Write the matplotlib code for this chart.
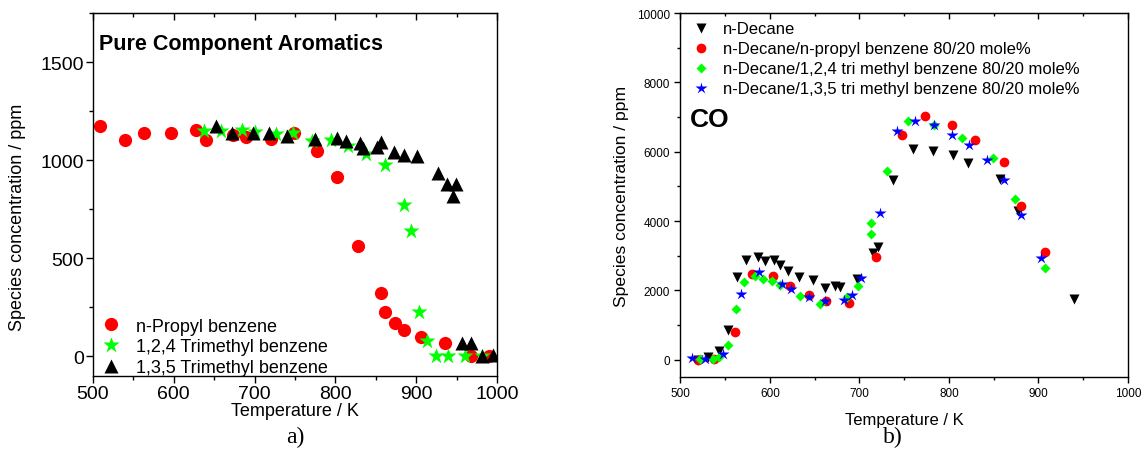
import matplotlib
matplotlib.use("Agg")
import matplotlib.pyplot as plt
from matplotlib.ticker import MultipleLocator

plt.rcParams['font.family'] = ['Liberation Sans', 'DejaVu Sans']

# ---- panel a) pure component aromatics ----
npb_T = [509, 540, 563, 596, 628, 640, 673, 690, 720, 749, 777, 802, 828,
         856, 861, 874, 885, 906, 936, 968, 990]
npb_ppm = [1175, 1102, 1136, 1141, 1155, 1102, 1127, 1119, 1107, 1138, 1048,
           913, 562, 321, 228, 168, 134, 97, 70, 2, 0]

tmb124_T = [638, 659, 684, 701, 727, 748, 771, 794, 816, 838, 862, 885, 894,
            903, 913, 925, 940, 960, 981]
tmb124_ppm = [1148, 1150, 1156, 1145, 1132, 1136, 1099, 1102, 1073, 1029, 978,
              774, 637, 224, 78, 0, 0, 0, 0]

tmb135_T = [652, 672, 698, 718, 740, 775, 802, 813, 830, 834, 852, 857, 873,
            885, 901, 927, 938, 949, 946, 957, 968, 981, 995]
tmb135_ppm = [1175, 1140, 1141, 1140, 1124, 1106, 1113, 1100, 1087, 1064, 1065,
              1094, 1043, 1025, 1022, 936, 881, 877, 820, 70, 70, 4, 7]

# ---- panel b) CO ----
dec_T = [520, 531, 543, 553, 563, 573, 587, 595, 605, 611, 620, 632, 648, 662,
         673, 678, 697, 715, 721, 738, 760, 782, 804, 821, 857, 877, 940]
dec_ppm = [-20, 78, 250, 871, 2376, 2882, 2951, 2836, 2865, 2721, 2566, 2376,
           2290, 2069, 2118, 2089, 2336, 3075, 3239, 5181, 6072, 6026, 5899,
           5661, 5201, 4282, 1753]

dnpb_T = [520, 537, 561, 580, 603, 622, 644, 663, 688, 718, 748, 773, 803, 829,
          861, 881, 907]
dnpb_ppm = [-10, 10, 805, 2471, 2405, 2118, 1859, 1687, 1638, 2960, 6474, 7032,
            6782, 6351, 5690, 4425, 3103]

d124_T = [522, 536, 543, 553, 562, 571, 583, 592, 602, 611, 634, 656, 686, 698,
          713, 713, 731, 754, 783, 815, 849, 874, 907]
d124_ppm = [9, 9, 78, 422, 1466, 2241, 2405, 2336, 2261, 2164, 1848, 1618, 1810,
            2126, 3629, 3957, 5451, 6882, 6782, 6399, 5805, 4626, 2644]

d135_T = [513, 527, 547, 568, 588, 613, 623, 644, 662, 683, 692, 702, 723, 742,
          762, 783, 803, 822, 843, 861, 881, 903]
d135_ppm = [37, 9, 152, 1905, 2520, 2193, 2049, 1810, 1704, 1733, 1876, 2356,
            4224, 6601, 6888, 6782, 6474, 6187, 5747, 5172, 4167, 2931]


def style_axes(ax, lab_size, tick_len, pad):
    ax.tick_params(which='both', direction='out', top=False, right=False,
                   labelsize=lab_size, width=1, pad=pad)
    ax.tick_params(which='major', length=tick_len)
    ax.tick_params(which='minor', length=tick_len * 0.6)
    # mirrored ticks pointing inward on top
    sec = ax.secondary_xaxis('top')
    sec.tick_params(which='both', direction='in', labeltop=False, width=1)
    sec.tick_params(which='major', length=tick_len)
    sec.tick_params(which='minor', length=tick_len * 0.6)
    sec.xaxis.set_major_locator(MultipleLocator(100))
    sec.xaxis.set_minor_locator(MultipleLocator(50))
    sec.xaxis.set_major_formatter(plt.NullFormatter())
    for s in ax.spines.values():
        s.set_linewidth(1.0)


fig = plt.figure(figsize=(11.45, 4.77), dpi=100)

# ---------- a) ----------
ax1 = fig.add_axes([0.0812, 0.2096, 0.3528, 0.761])
ax1.plot(npb_T, npb_ppm, 'o', color='#ff0000', ms=9.5, mec='none',
         label='n-Propyl benzene')
ax1.plot(tmb124_T, tmb124_ppm, '*', color='#00ff00', ms=12, mec='none',
         label='1,2,4 Trimethyl benzene')
ax1.plot(tmb135_T, tmb135_ppm, '^', color='black', ms=10, mec='none',
         label='1,3,5 Trimethyl benzene')
ax1.set_xlim(500, 1000)
ax1.set_ylim(-100, 1750)
ax1.xaxis.set_major_locator(MultipleLocator(100))
ax1.xaxis.set_minor_locator(MultipleLocator(50))
ax1.yaxis.set_major_locator(MultipleLocator(500))
ax1.yaxis.set_minor_locator(MultipleLocator(250))
style_axes(ax1, 14, 5, 1.5)
ax1.set_xlabel('Temperature / K', fontsize=13, labelpad=0)
ax1.set_ylabel('Species concentration / ppm', fontsize=13)
ax1.yaxis.set_label_coords(-0.165, 0.44)
ax1.text(0.015, 0.915, 'Pure Component Aromatics', transform=ax1.transAxes,
         fontsize=15.5, fontweight='bold', va='center', ha='left')
ax1.legend(loc='lower left', bbox_to_anchor=(0.0, -0.01), frameon=False,
           fontsize=13, handletextpad=0.6, labelspacing=0.2,
           borderaxespad=0.0, handlelength=1.6, borderpad=0.2)

# ---------- b) ----------
ax2 = fig.add_axes([0.5943, 0.2075, 0.3908, 0.763])
ax2.plot(dec_T, dec_ppm, 'v', color='black', ms=7.5, mec='none',
         label='n-Decane')
ax2.plot(dnpb_T, dnpb_ppm, 'o', color='#ff0000', ms=7, mec='none',
         label='n-Decane/n-propyl benzene 80/20 mole%')
ax2.plot(d124_T, d124_ppm, 'D', color='#00ff00', ms=5.5, mec='none',
         label='n-Decane/1,2,4 tri methyl benzene 80/20 mole%')
ax2.plot(d135_T, d135_ppm, '*', color='#0000ff', ms=9, mec='none',
         label='n-Decane/1,3,5 tri methyl benzene 80/20 mole%')
ax2.set_xlim(500, 1000)
ax2.set_ylim(-500, 10000)
ax2.xaxis.set_major_locator(MultipleLocator(100))
ax2.xaxis.set_minor_locator(MultipleLocator(50))
ax2.yaxis.set_major_locator(MultipleLocator(2000))
ax2.yaxis.set_minor_locator(MultipleLocator(1000))
style_axes(ax2, 8.5, 4, 3.5)
ax2.set_xlabel('Temperature / K', fontsize=12, labelpad=9)
ax2.set_ylabel('Species concentration / ppm', fontsize=12.6, labelpad=6)
ax2.text(0.022, 0.71, 'CO', transform=ax2.transAxes, fontsize=19,
         fontweight='bold', va='center', ha='left')
ax2.legend(loc='upper left', bbox_to_anchor=(0.005, 1.0), frameon=False,
           fontsize=12, handletextpad=0.7, labelspacing=0.3,
           borderaxespad=0.1, handlelength=1.2)

fig.text(295 / 1145, 1 - 437 / 477, 'a)', fontsize=17, ha='center',
         va='center', family=['Liberation Serif', 'DejaVu Serif'])
fig.text(893 / 1145, 1 - 437 / 477, 'b)', fontsize=17, ha='center',
         va='center', family=['Liberation Serif', 'DejaVu Serif'])

fig.savefig('out.png', dpi=100, facecolor='white')
